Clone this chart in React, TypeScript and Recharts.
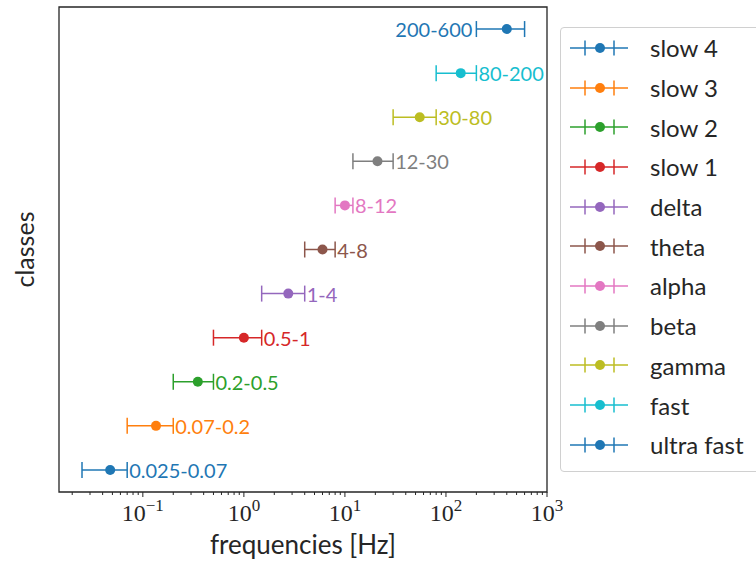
import { ScatterChart, Scatter, XAxis, YAxis, ErrorBar, ReferenceArea } from "recharts"

// frequency classes, bottom row first
const classNames = ["slow 4", "slow 3", "slow 2", "slow 1", "delta", "theta", "alpha", "beta", "gamma", "fast", "ultra fast"]
const lows = [0.025, 0.07, 0.2, 0.5, 1.5, 4, 8, 12, 30, 80, 200]
const highs = [0.07, 0.2, 0.5, 1.5, 4, 8, 12, 30, 80, 200, 600]
const rangeLabels = ["0.025-0.07", "0.07-0.2", "0.2-0.5", "0.5-1", "1-4", "4-8", "8-12", "12-30", "30-80", "80-200", "200-600"]
const labelSides = ["right", "right", "right", "right", "right", "right", "right", "right", "right", "right", "left"]
const colors = ["#1f77b4", "#ff7f0e", "#2ca02c", "#d62728", "#9467bd", "#8c564b", "#e377c2", "#7f7f7f", "#bcbd22", "#17becf", "#1f77b4"]

const majorTicks = [0.1, 1, 10, 100, 1000]
const tickExponents = ["−1", "0", "1", "2", "3"]
const minorTicks = [0.01, 0.1, 1, 10, 100].flatMap((d) => [2, 3, 4, 5, 6, 7, 8, 9].map((m) => +(m * d).toPrecision(3)))
const allTicks = [...majorTicks, ...minorTicks].filter((t) => t > 0.0148).sort((a, b) => a - b)

const SANS = "Lato, 'Open Sans', sans-serif"
const SERIF = "'Liberation Serif', 'DejaVu Serif', serif"
const INK = "#262626"

const series = classNames.map((name, i) => ({
  name,
  color: colors[i],
  data: [{ x: (lows[i] + highs[i]) / 2, y: i, err: (highs[i] - lows[i]) / 2 }],
}))

const labelPoints = classNames.map((_, i) => ({
  x: labelSides[i] === "left" ? lows[i] : highs[i],
  y: i,
  text: rangeLabels[i],
  side: labelSides[i],
  color: colors[i],
}))

function FreqTick({ x, y, payload }: any) {
  const idx = majorTicks.indexOf(payload.value)
  const major = idx >= 0
  return (
    <g>
      <line x1={x} x2={x} y1={y} y2={y + (major ? 5 : 3)} stroke={INK} strokeWidth={1} />
      {major && (
        <text x={x} y={y + 29} textAnchor="middle" fontFamily={SERIF} fontSize={24} fill={INK}>
          10
          <tspan fontSize={17} dy={-10}>{tickExponents[idx]}</tspan>
        </text>
      )}
    </g>
  )
}

function RangeLabel({ cx, cy, payload }: any) {
  const left = payload.side === "left"
  return (
    <text
      x={left ? cx - 4 : cx + 2}
      y={cy}
      textAnchor={left ? "end" : "start"}
      dominantBaseline="central"
      fontFamily={SANS}
      fontSize={20}
      fill={payload.color}
    >
      {payload.text}
    </text>
  )
}

function LegendBox() {
  return (
    <div
      style={{
        position: "absolute",
        left: 560,
        top: 27,
        width: 210,
        padding: "0 0 6px 9px",
        border: "1px solid #d0d0d0",
        borderRadius: 4,
        background: "#fff",
        boxSizing: "border-box",
      }}
    >
      {series.map((s) => (
        <div key={s.name} style={{ display: "flex", alignItems: "center", height: 39.7 }}>
          <svg width={60} height={20}>
            <line x1={0} x2={58} y1={10} y2={10} stroke={s.color} strokeWidth={1.5} />
            <line x1={15} x2={15} y1={2.5} y2={17.5} stroke={s.color} strokeWidth={1.5} />
            <line x1={44} x2={44} y1={2.5} y2={17.5} stroke={s.color} strokeWidth={1.5} />
            <circle cx={30} cy={10} r={5} fill={s.color} />
          </svg>
          <span style={{ marginLeft: 20, fontFamily: SANS, fontSize: 24, color: INK, whiteSpace: "nowrap" }}>{s.name}</span>
        </div>
      ))}
    </div>
  )
}

export default function App() {
  return (
    <div style={{ position: "relative", width: 756, height: 565, overflow: "hidden", background: "#fff" }}>
      <style>{"body{margin:0}"}</style>
      <ScatterChart width={756} height={565} margin={{ top: 7, right: 209, bottom: 0, left: 0 }}>
        <XAxis
          type="number"
          dataKey="x"
          scale="log"
          domain={[0.0148, 1000]}
          allowDataOverflow
          ticks={allTicks}
          interval={0}
          tick={<FreqTick />}
          tickLine={false}
          axisLine={false}
          tickSize={0}
          tickMargin={0}
          height={73}
          label={{
            content: ({ viewBox }: any) => (
              <text x={viewBox.x + viewBox.width / 2} y={554} textAnchor="middle" fontFamily={SANS} fontSize={26} fill={INK}>
                frequencies [Hz]
              </text>
            ),
          }}
        />
        <YAxis
          type="number"
          dataKey="y"
          domain={[-0.5, 10.5]}
          tick={false}
          tickLine={false}
          axisLine={false}
          width={59}
          label={{
            content: ({ viewBox }: any) => {
              const cx = 24
              const cy = viewBox.y + viewBox.height / 2
              return (
                <text x={cx} y={cy} transform={`rotate(-90 ${cx} ${cy})`} textAnchor="middle" dominantBaseline="central" fontFamily={SANS} fontSize={25} fill={INK}>
                  classes
                </text>
              )
            },
          }}
        />
        <ReferenceArea x1={0.0148} x2={1000} y1={-0.5} y2={10.5} fill="none" stroke={INK} strokeWidth={1.3} ifOverflow="visible" />
        {series.map((s) => (
          <Scatter key={s.name} name={s.name} data={s.data} fill={s.color} isAnimationActive={false}
            shape={({ cx, cy }: any) => <circle cx={cx} cy={cy} r={5} fill={s.color} />}>
            <ErrorBar dataKey="err" direction="x" width={8} stroke={s.color} strokeWidth={1.5} isAnimationActive={false} />
          </Scatter>
        ))}
        <Scatter name="ranges" data={labelPoints} isAnimationActive={false} shape={<RangeLabel />} />
      </ScatterChart>
      <LegendBox />
    </div>
  )
}
